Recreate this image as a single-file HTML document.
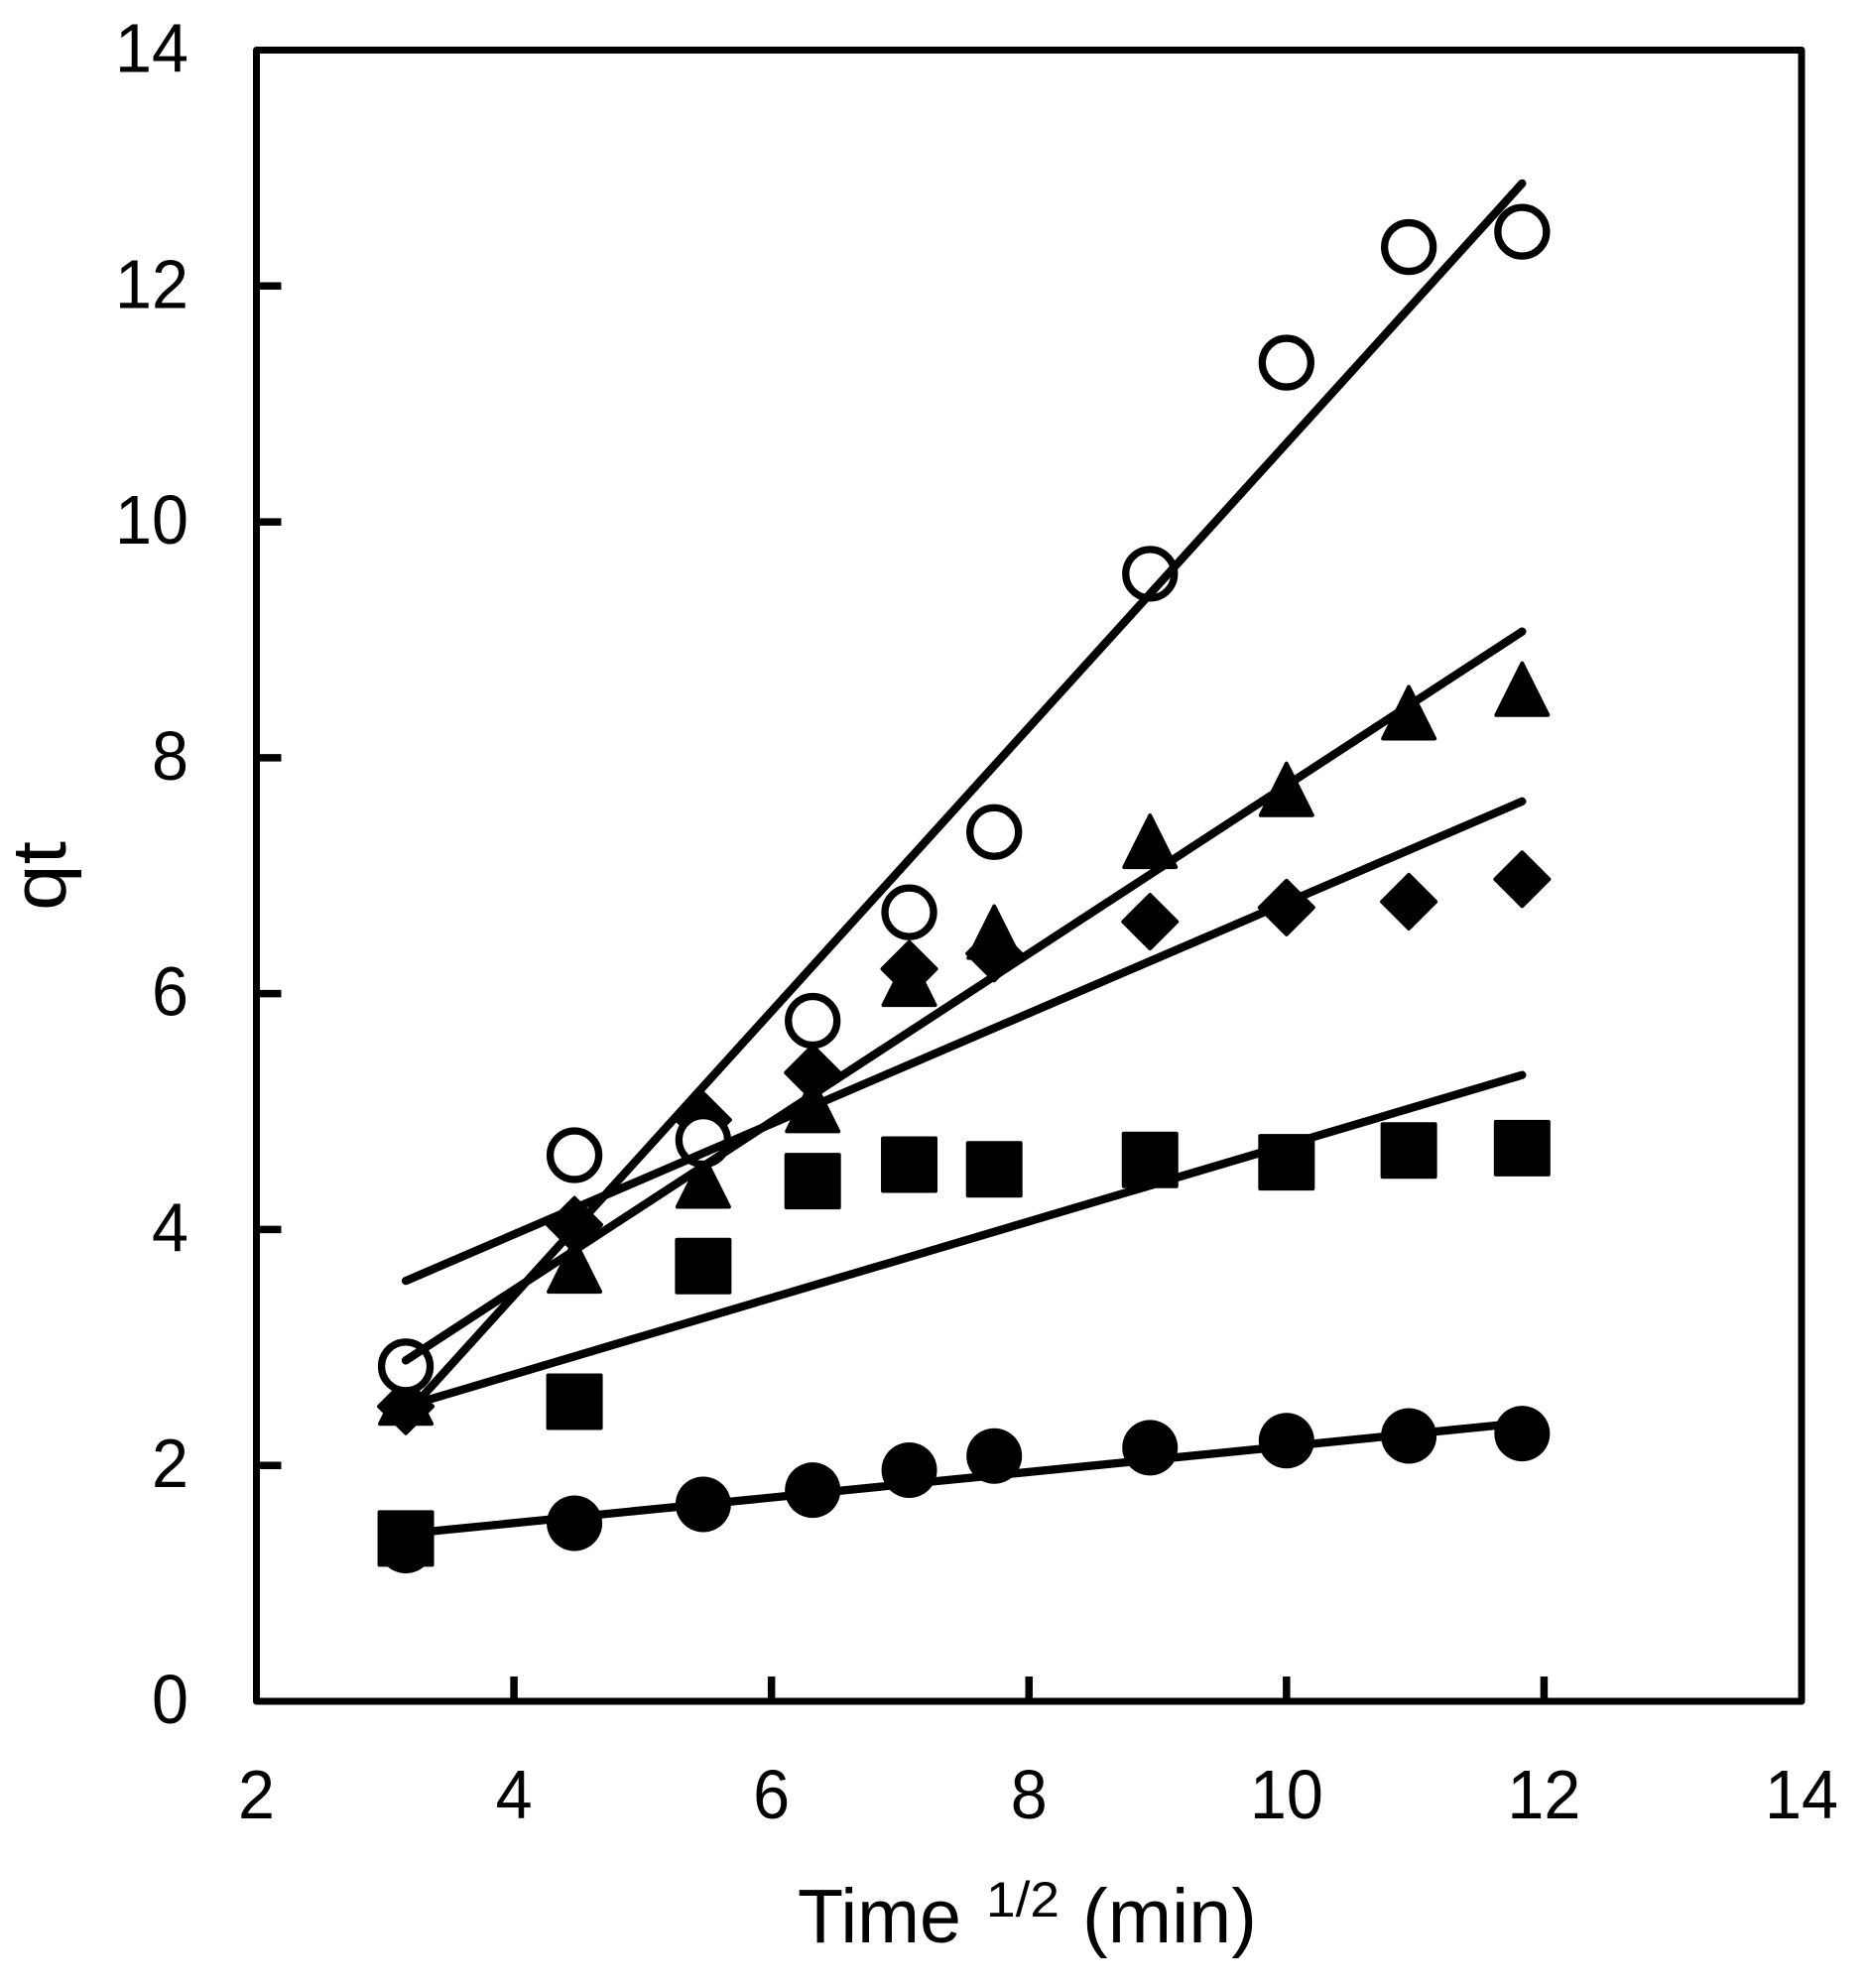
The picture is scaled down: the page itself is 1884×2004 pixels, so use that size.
<!DOCTYPE html>
<html lang="en">
<head>
<meta charset="utf-8">
<title>qt versus Time 1/2 chart</title>
<style>
  html, body { margin: 0; padding: 0; background: #fff; }
  #chart { display: block; }
  text { font-family: "Liberation Sans", sans-serif; fill: #000; }
</style>
</head>
<body>
<svg id="chart" xmlns="http://www.w3.org/2000/svg" width="1884" height="2004" viewBox="0 0 1884 2004">
  <rect x="0" y="0" width="1884" height="2004" fill="#fff"/>
  <g id="ticks"></g>
  <g id="tickLabels"></g>
  <g id="markers"></g>
  <g id="trends"></g>
  <rect id="frame" fill="none" stroke="#000" stroke-width="7" stroke-linejoin="round"/>
  <g>
    <text x="804" y="1958" font-size="77" textLength="165" lengthAdjust="spacingAndGlyphs">Time</text>
    <text x="994" y="1932" font-size="50" textLength="74" lengthAdjust="spacingAndGlyphs">1/2</text>
    <text x="1091" y="1958" font-size="77" textLength="176" lengthAdjust="spacingAndGlyphs">(min)</text>
  </g>
  <text transform="translate(66 918) rotate(-90)" x="0" y="0" font-size="77" textLength="70" lengthAdjust="spacingAndGlyphs">qt</text>
</svg>
<script>
const xTicks = [2, 4, 6, 8, 10, 12, 14];
const yTicks = [0, 2, 4, 6, 8, 10, 12, 14];
const times = [3.16, 4.47, 5.47, 6.32, 7.07, 7.73, 8.94, 10, 10.95, 11.83];
const diamondValues = [2.50, 4.04, 4.93, 5.33, 6.21, 6.34, 6.61, 6.73, 6.78, 6.97];
const squareValues = [1.38, 2.54, 3.69, 4.41, 4.55, 4.51, 4.59, 4.57, 4.67, 4.69];
const triangleValues = [2.58, 3.70, 4.42, 5.06, 6.13, 6.53, 7.30, 7.74, 8.39, 8.59];
const filledCircleValues = [1.32, 1.51, 1.67, 1.79, 1.96, 2.08, 2.15, 2.21, 2.25, 2.27];
const openCircleValues = [2.84, 4.63, 4.76, 5.77, 6.69, 7.37, 9.56, 11.35, 12.33, 12.46];
const trendTimes = [3.16, 11.83];
const openTrend = [2.43, 12.87];
const triangleTrend = [2.89, 9.07];
const diamondTrend = [3.565, 7.63];
const squareTrend = [2.50, 5.31];
const circleTrend = [1.42, 2.36];

const NS = 'http://www.w3.org/2000/svg';
const plot = { left: 258.5, right: 1816, top: 50.5, bottom: 1715 };
const xMin = xTicks[0], xMax = xTicks[xTicks.length - 1];
const yMin = yTicks[0], yMax = yTicks[yTicks.length - 1];
function xScale(v) { return plot.left + (v - xMin) / (xMax - xMin) * (plot.right - plot.left); }
function yScale(v) { return plot.bottom - (v - yMin) / (yMax - yMin) * (plot.bottom - plot.top); }
function make(tag, attrs) {
  const el = document.createElementNS(NS, tag);
  for (const k in attrs) el.setAttribute(k, attrs[k]);
  return el;
}

const frame = document.getElementById('frame');
frame.setAttribute('x', plot.left);
frame.setAttribute('y', plot.top);
frame.setAttribute('width', plot.right - plot.left);
frame.setAttribute('height', plot.bottom - plot.top);

const tickGroup = document.getElementById('ticks');
const labelGroup = document.getElementById('tickLabels');
xTicks.forEach(function (t) {
  const x = xScale(t);
  if (t !== xMin && t !== xMax) {
    const tick = make('line', { x1: x, x2: x, y1: plot.bottom, y2: plot.bottom - 25, stroke: '#000', 'stroke-width': 7.5 });
    
    
    tickGroup.appendChild(tick);
  }
  const s = String(t);
  const label = make('text', { x: x, y: 1833, 'font-size': 70, 'text-anchor': 'middle', textLength: 37 * s.length, lengthAdjust: 'spacingAndGlyphs' });
  label.textContent = s;
  
  
  labelGroup.appendChild(label);
});
yTicks.forEach(function (t) {
  const y = yScale(t);
  if (t !== yMin && t !== yMax) {
    const tick = make('line', { x1: plot.left, x2: plot.left + 25, y1: y, y2: y, stroke: '#000', 'stroke-width': 7.5 });
    
    
    tickGroup.appendChild(tick);
  }
  const s = String(t);
  const label = make('text', { x: 190, y: y + 22, 'font-size': 70, 'text-anchor': 'end', textLength: 37 * s.length, lengthAdjust: 'spacingAndGlyphs' });
  label.textContent = s;
  
  
  labelGroup.appendChild(label);
});

const markerGroup = document.getElementById('markers');
function drawDiamond(cx, cy) {
  return make('polygon', { points: [cx, cy - 27, cx + 27, cy, cx, cy + 27, cx - 27, cy].join(' '), fill: '#000', stroke: '#000', 'stroke-width': 4, 'stroke-linejoin': 'round' });
}
function drawSquare(cx, cy) {
  return make('rect', { x: cx - 26.5, y: cy - 26.5, width: 53, height: 53, fill: '#000', stroke: '#000', 'stroke-width': 4, 'stroke-linejoin': 'round' });
}
function drawTriangle(cx, cy) {
  return make('polygon', { points: [cx, cy - 25, cx + 26, cy + 27, cx - 26, cy + 27].join(' '), fill: '#000', stroke: '#000', 'stroke-width': 4, 'stroke-linejoin': 'round' });
}
function drawFilledCircle(cx, cy) {
  return make('circle', { cx: cx, cy: cy, r: 28, fill: '#000' });
}
function drawOpenCircle(cx, cy) {
  return make('circle', { cx: cx, cy: cy, r: 24.5, fill: '#fff', stroke: '#000', 'stroke-width': 7.3 });
}
times.forEach(function (t, i) {
  const el = drawDiamond(xScale(t), yScale(diamondValues[i]));
  
  
  markerGroup.appendChild(el);
});
times.forEach(function (t, i) {
  const el = drawFilledCircle(xScale(t), yScale(filledCircleValues[i]));
  
  
  markerGroup.appendChild(el);
});
times.forEach(function (t, i) {
  const el = drawSquare(xScale(t), yScale(squareValues[i]));
  
  
  markerGroup.appendChild(el);
});
times.forEach(function (t, i) {
  const el = drawTriangle(xScale(t), yScale(triangleValues[i]));
  
  
  markerGroup.appendChild(el);
});
times.forEach(function (t, i) {
  const el = drawOpenCircle(xScale(t), yScale(openCircleValues[i]));
  
  
  markerGroup.appendChild(el);
});

const trendGroup = document.getElementById('trends');
function drawTrend(values) {
  return make('line', { x1: xScale(trendTimes[0]), y1: yScale(values[0]), x2: xScale(trendTimes[1]), y2: yScale(values[1]), stroke: '#000', 'stroke-width': 8.3, 'stroke-linecap': 'round' });
}
const lineOpen = drawTrend(openTrend);


trendGroup.appendChild(lineOpen);
const lineTriangle = drawTrend(triangleTrend);


trendGroup.appendChild(lineTriangle);
const lineDiamond = drawTrend(diamondTrend);


trendGroup.appendChild(lineDiamond);
const lineSquare = drawTrend(squareTrend);


trendGroup.appendChild(lineSquare);
const lineCircle = drawTrend(circleTrend);


trendGroup.appendChild(lineCircle);
</script>
</body>
</html>
